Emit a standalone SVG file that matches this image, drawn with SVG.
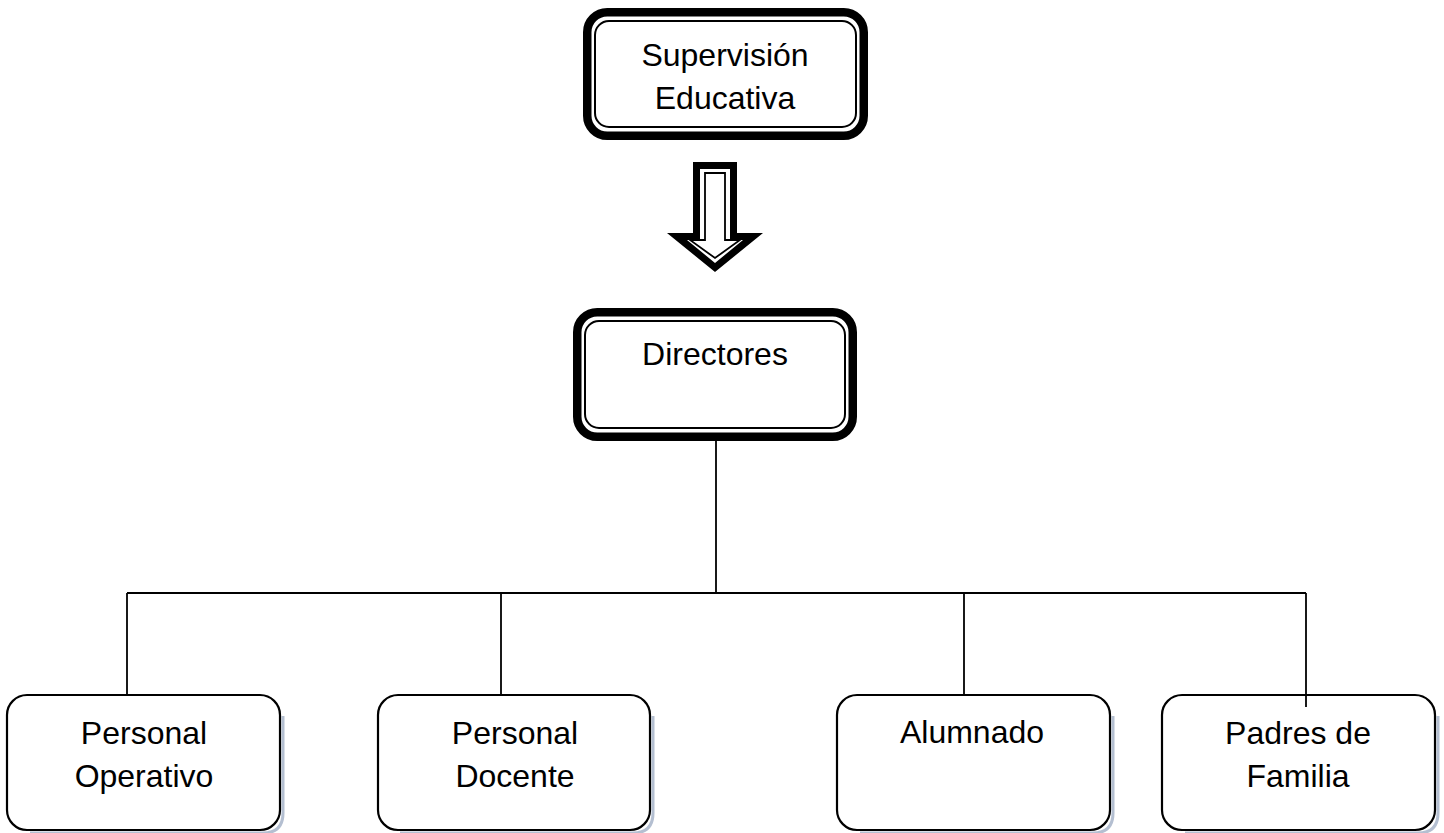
<svg xmlns="http://www.w3.org/2000/svg" width="1444" height="833" viewBox="0 0 1444 833">
<style>
.t{font-family:"Liberation Sans",Arial,sans-serif;font-size:32px;fill:#000;text-anchor:middle}
.outer{fill:#fff;stroke:#000;stroke-width:8.5}
.inner{fill:none;stroke:#000;stroke-width:2}
.box{fill:#fff;stroke:#000;stroke-width:2.2}
.shadow{fill:none;stroke:#b4bfd1;stroke-width:3}
.conn{fill:none;stroke:#000;stroke-width:1.8}
</style>
<rect width="1444" height="833" fill="#fff"/>
<g id="connectors">
<line class="conn" x1="716" y1="441" x2="716" y2="593"/>
<line class="conn" x1="127" y1="593" x2="1306" y2="593"/>
<line class="conn" x1="127" y1="593" x2="127" y2="695"/>
<line class="conn" x1="501" y1="593" x2="501" y2="695"/>
<line class="conn" x1="964" y1="593" x2="964" y2="695"/>
<line class="conn" x1="1306" y1="593" x2="1306" y2="707"/>
</g>
<g id="arrow">
<polygon points="693,162 737,162 737,233 763,233 715,272 667,233 693,233" fill="#000"/>
<polygon points="700,169 730,169 730,240 743,240 715,263 687,240 700,240" fill="#fff"/>
<polygon points="705,173 725,173 725,240 740,240 715,258 690,240 705,240" fill="#fff" stroke="#000" stroke-width="1.8" stroke-linejoin="miter"/>
</g>
<g id="supervision">
<rect class="outer" x="587.25" y="12.25" width="276.5" height="123.5" rx="20"/>
<rect class="inner" x="595" y="21" width="261" height="106" rx="14"/>
<text class="t" x="725" y="66">Supervisión</text>
<text class="t" x="725" y="109">Educativa</text>
</g>
<g id="directores">
<rect class="outer" x="577.25" y="312.25" width="275.5" height="124.5" rx="20"/>
<rect class="inner" x="585" y="321" width="260" height="107" rx="14"/>
<text class="t" x="715" y="365">Directores</text>
</g>
<g id="personal-operativo">
<path class="shadow" d="M283,716 V813 Q283,833 263,833 H30"/>
<rect class="box" x="7" y="695" width="273" height="135" rx="20"/>
<text class="t" x="144" y="744">Personal</text>
<text class="t" x="144" y="787">Operativo</text>
</g>
<g id="personal-docente">
<path class="shadow" d="M653,716 V813 Q653,833 633,833 H400"/>
<rect class="box" x="378" y="695" width="272" height="135" rx="20"/>
<text class="t" x="515" y="744">Personal</text>
<text class="t" x="515" y="787">Docente</text>
</g>
<g id="alumnado">
<path class="shadow" d="M1113,716 V813 Q1113,833 1093,833 H860"/>
<rect class="box" x="837" y="695" width="273" height="135" rx="20"/>
<text class="t" x="972" y="743">Alumnado</text>
</g>
<g id="padres">
<path class="shadow" d="M1438,716 V813 Q1438,833 1418,833 H1185"/>
<rect class="box" x="1162" y="695" width="273" height="135" rx="20"/>
<text class="t" x="1298" y="744">Padres de</text>
<text class="t" x="1298" y="787">Familia</text>
</g>
<line class="conn" x1="1306" y1="695" x2="1306" y2="707"/>
</svg>
